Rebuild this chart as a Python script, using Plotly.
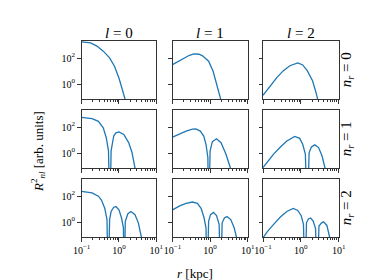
import plotly.graph_objects as go
from plotly.subplots import make_subplots

# ---- data: log10(r [kpc]) and log10(R_nl^2) ----
# (node points are given a very low value so the curve dives out of the axes)
col_titles = ["<i>l</i> = 0", "<i>l</i> = 1", "<i>l</i> = 2"]
row_labels = ["<i>n</i><sub><i>r</i></sub> = 0", "<i>n</i><sub><i>r</i></sub> = 1", "<i>n</i><sub><i>r</i></sub> = 2"]
x_tick_vals = [0.1, 1, 10]
x_tick_text = ["10<sup>\u22121</sup>", "10<sup>0</sup>", "10<sup>1</sup>"]
y_tick_vals = [1, 100]
y_tick_text = ["10<sup>0</sup>", "10<sup>2</sup>"]

lr_n0_l0 = [-1.0, -0.9, -0.76, -0.59, -0.42, -0.25, -0.12, 0.0, 0.13, 0.19, 0.25]
ly_n0_l0 = [3.25, 3.23, 3.17, 2.93, 2.54, 2.02, 1.38, 0.47, -0.57, -1.14, -2.0]

lr_n0_l1 = [-1.0, -0.72, -0.55, -0.43, -0.3, -0.21, -0.04, 0.08, 0.21, 0.31, 0.36]
ly_n0_l1 = [1.5, 1.97, 2.22, 2.33, 2.3, 2.2, 1.77, 0.99, -0.18, -1.14, -2.0]

lr_n0_l2 = [-1.0, -0.8, -0.63, -0.46, -0.29, -0.08, 0.05, 0.17, 0.31, 0.39, 0.46, 0.52]
ly_n0_l2 = [-0.86, -0.13, 0.52, 1.04, 1.42, 1.63, 1.48, 1.04, 0.26, -0.52, -1.14, -2.0]

lr_n1_l0 = [-1.0, -0.72, -0.55, -0.42, -0.34, -0.28, -0.24, -0.21, -0.14, -0.08, 0.0, 0.13, 0.26, 0.35, 0.43, 0.5]
ly_n1_l0 = [2.76, 2.65, 2.45, 1.95, 1.19, 0.18, -5.0, 0.18, 1.32, 1.57, 1.64, 1.44, 0.81, 0.05, -1.14, -2.0]

lr_n1_l1 = [-1.0, -0.81, -0.64, -0.47, -0.38, -0.26, -0.17, -0.11, -0.06, -0.04, 0.0, 0.06, 0.17, 0.29, 0.42, 0.54, 0.6]
ly_n1_l1 = [1.24, 1.49, 1.7, 1.85, 1.87, 1.7, 1.32, 0.68, -0.33, -5.0, 0.18, 0.89, 1.11, 0.81, -0.07, -1.14, -2.0]

lr_n1_l2 = [-1.0, -0.89, -0.72, -0.54, -0.37, -0.16, -0.03, 0.05, 0.12, 0.17, 0.22, 0.28, 0.37, 0.47, 0.56, 0.64, 0.7]
ly_n1_l2 = [-1.1, -0.7, -0.07, 0.48, 0.94, 1.29, 1.14, 0.68, -0.07, -5.0, 0.05, 0.48, 0.64, 0.43, -0.2, -1.14, -2.0]

lr_n2_l0 = [-1.0, -0.72, -0.55, -0.47, -0.38, -0.32, -0.29, -0.25, -0.21, -0.14, -0.08, 0.0, 0.07, 0.12, 0.14,
            0.17, 0.24, 0.32, 0.43, 0.52, 0.6, 0.66]
ly_n2_l0 = [2.37, 2.25, 2.0, 1.7, 1.07, 0.2, -5.0, 0.2, 0.82, 1.15, 1.2, 0.95, 0.32, -0.43, -5.0,
            0.07, 0.65, 0.82, 0.58, -0.05, -1.14, -2.0]

lr_n2_l1 = [-1.0, -0.81, -0.64, -0.47, -0.34, -0.24, -0.16, -0.11, -0.08, -0.04, 0.01, 0.09, 0.17, 0.24, 0.28,
            0.32, 0.38, 0.45, 0.55, 0.64, 0.7, 0.76]
ly_n2_l1 = [0.95, 1.25, 1.45, 1.55, 1.45, 1.07, 0.32, -0.43, -5.0, 0.07, 0.58, 0.75, 0.5, -0.17, -5.0,
            -0.05, 0.32, 0.43, 0.2, -0.43, -1.14, -2.0]

lr_n2_l2 = [-1.0, -0.89, -0.72, -0.54, -0.37, -0.2, -0.08, 0.01, 0.07, 0.11, 0.15, 0.2, 0.26, 0.33, 0.39, 0.43,
            0.48, 0.55, 0.6, 0.69, 0.76, 0.82]
ly_n2_l2 = [-1.2, -0.75, -0.17, 0.4, 0.82, 1.05, 0.9, 0.5, -0.17, -5.0, -0.05, 0.25, 0.32, 0.07, -0.5, -5.0,
            -0.3, -0.05, 0.02, -0.25, -1.14, -2.0]

panels = [
    [(lr_n0_l0, ly_n0_l0), (lr_n0_l1, ly_n0_l1), (lr_n0_l2, ly_n0_l2)],
    [(lr_n1_l0, ly_n1_l0), (lr_n1_l1, ly_n1_l1), (lr_n1_l2, ly_n1_l2)],
    [(lr_n2_l0, ly_n2_l0), (lr_n2_l1, ly_n2_l1), (lr_n2_l2, ly_n2_l2)],
]

# ---- layout (pixel geometry of the reference) ----
W, H = 374, 280
col_px = [(67.5, 145.5), (162.5, 241.0), (257.0, 336.0)]
row_px = [(33.0, 91.0), (102.0, 160.0), (171.0, 229.0)]
SERIF = "Liberation Serif, Times New Roman, DejaVu Serif, serif"
AX = "#333333"

minor_x = [m * d for d in (0.1, 1.0) for m in range(2, 10)]

fig = make_subplots(rows=3, cols=3)
for i in range(3):
    for j in range(3):
        lr, ly = panels[i][j]
        fig.add_trace(go.Scatter(
            x=[10 ** v for v in lr], y=[10 ** v for v in ly], mode="lines",
            line=dict(color="#1f77b4", width=1.3), hoverinfo="skip", showlegend=False),
            row=i + 1, col=j + 1)
        k = i * 3 + j + 1
        xa = "xaxis" if k == 1 else f"xaxis{k}"
        ya = "yaxis" if k == 1 else f"yaxis{k}"
        fig.layout[xa].update(
            domain=[col_px[j][0] / W, col_px[j][1] / W], type="log", range=[-1, 1],
            showgrid=False, zeroline=False, showline=True, mirror=True,
            linecolor=AX, linewidth=1, ticks="outside", ticklen=3.5, tickwidth=0.8,
            tickcolor=AX, tickvals=x_tick_vals, ticktext=x_tick_text,
            showticklabels=(i == 2), tickfont=dict(family=SERIF, size=10, color="black"),
            minor=dict(tickvals=minor_x, ticks="outside", ticklen=2, tickwidth=0.6,
                       tickcolor=AX, showgrid=False))
        fig.layout[ya].update(
            domain=[1 - row_px[i][1] / H, 1 - row_px[i][0] / H], type="log",
            range=[-1.14, 3.32], showgrid=False, zeroline=False, showline=True,
            mirror=True, linecolor=AX, linewidth=1, ticks="outside", ticklen=3.5,
            tickwidth=0.8, tickcolor=AX, tickvals=y_tick_vals, ticktext=y_tick_text,
            showticklabels=(j == 0), tickfont=dict(family=SERIF, size=10, color="black"))

ann = []
for j in range(3):
    ann.append(dict(text=col_titles[j], x=(col_px[j][0] + col_px[j][1]) / 2 / W, y=1 - 25 / H,
                    xref="paper", yref="paper", showarrow=False, xanchor="center", yanchor="middle",
                    font=dict(family=SERIF, size=15, color="black")))
for i in range(3):
    ann.append(dict(text=row_labels[i], x=345 / W, y=1 - (row_px[i][0] + row_px[i][1]) / 2 / H,
                    xref="paper", yref="paper", showarrow=False, xanchor="center", yanchor="middle",
                    textangle=-90, font=dict(family=SERIF, size=15, color="black")))
ann.append(dict(text="<i>R</i><sup>2</sup><sub><i>nl</i></sub> [arb. units]", x=22 / W, y=1 - 144 / H,
                xref="paper", yref="paper", showarrow=False, xanchor="center", yanchor="middle",
                textangle=-90, font=dict(family=SERIF, size=13, color="black")))
ann.append(dict(text="<i>r</i> [kpc]", x=186 / W, y=1 - 265 / H,
                xref="paper", yref="paper", showarrow=False, xanchor="center", yanchor="middle",
                font=dict(family=SERIF, size=13, color="black")))

fig.update_layout(width=W, height=H, margin=dict(l=0, r=0, t=0, b=0),
                  paper_bgcolor="white", plot_bgcolor="white", annotations=ann)
fig.write_html("out.html")
